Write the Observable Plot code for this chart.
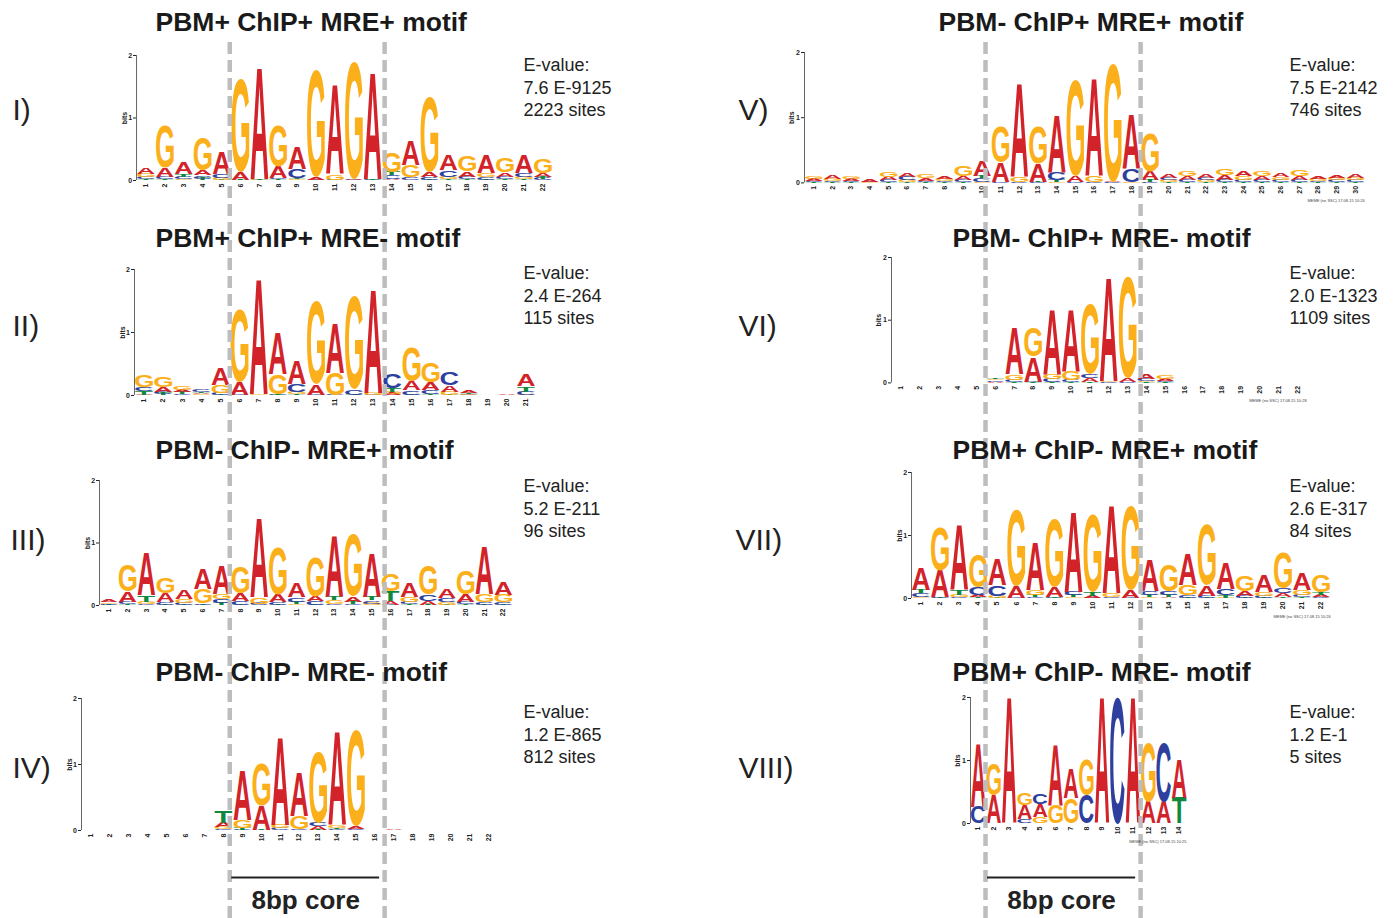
<!DOCTYPE html>
<html><head><meta charset="utf-8">
<script src="https://cdn.jsdelivr.net/npm/d3@7"></script>
<script src="https://cdn.jsdelivr.net/npm/@observablehq/plot@0.6"></script>
<style>
html,body{margin:0;padding:0;background:#fff;overflow:hidden;}
#fig{position:relative;width:1395px;height:918px;background:#fff;}
#fig svg{position:absolute;}
</style></head><body><div id="fig"></div>
<script>
// ---------- DATA (each position: letters bottom -> top, with height in bits) ----------
const motifI = [
"T.02 C.04 G.05 A.10","T.02 C.04 A.14 G.68","G.02 C.04 T.04 A.18","T.03 C.05 A.08 G.53",
"T.01 G.03 C.06 A.35","T.01 A.12 G1.49","G.01 T.02 A1.79","T.02 C.02 A.18 G.66",
"G.02 T.01 C.15 A.36","C.01 A.03 G1.70","C.01 G.09 A1.44","C.01 A.02 G1.88",
"C.01 T.02 A1.70","A.02 C.06 T.05 G.32","C.05 G.19 A.40","T.01 C.04 A.08 G1.21",
"T.02 G.04 C.10 A.24","T.02 C.04 A.09 G.25","T.01 C.04 G.07 A.28","T.02 C.04 A.07 G.22",
"T.02 G.04 C.06 A.28","C.03 T.03 A.05 G.24"];
const motifII = [
"A.01 T.06 C.06 G.19","T.03 C.03 A.07 G.16","C.02 T.03 A.03 G.05","G.02 A.02 T.02 C.04",
"T.01 C.03 G.12 A.26","C.01 A.20 G1.14","G.02 A1.83","C.01 T.01 G.32 A.66",
"T.02 G.04 C.13 A.37","C.01 A.17 G1.31","C.01 G.35 A.78","T.01 C.09 G1.49",
"C.01 G.03 A1.64","A.03 G.03 T.06 C.22","T.01 C.07 A.15 G.55","T.02 C.07 A.12 G.32",
"T.01 G.05 A.10 C.21","C.01 G.02 T.01 A.04","","A.02","G.01 C.05 T.09 A.19"];
const motifIII = [
"T.01 C.02 G.02 A.03","T.02 C.04 A.17 G.41","C.02 G.04 T.10 A.69","T.01 C.04 A.14 G.26",
"T.01 C.03 G.06 A.14","T.01 C.02 G.24 A.32","T.04 C.07 G.08 A.45","T.01 C.06 A.12 G.42",
"C.03 G.10 A1.26","T.01 C.04 A.12 G.76","G.02 T.04 C.07 A.22","T.01 C.06 A.08 G.62",
"C.02 G.06 T.07 A.97","C.02 T.04 A.09 G1.00","G.03 C.05 T.06 A.71","C.01 A.06 T.16 G.28",
"T.02 C.04 G.08 A.23","T.01 A.06 C.10 G.47","T.01 G.04 C.07 A.15","T.02 C.04 A.12 G.38",
"T.01 C.04 G.13 A.76","T.01 C.04 G.12 A.20"];
const motifIV = [
"","","","","","","","C.02 G.03 A.07 T.17","C.01 T.03 G.12 A.75","T.01 A.37 G.64",
"C.03 G.05 A1.34","C.02 G.20 A.67","T.01 A.05 C.06 G1.07","C.02 T.02 G.04 A1.41",
"C.02 A.04 G1.46","","A.02","","","","",""];
const motifV = [
"T.01 C.02 A.03 G.03","T.01 C.02 G.03 A.06","T.01 C.02 A.03 G.03","G.01 C.01 A.03",
"T.01 C.03 A.05 G.08","T.01 G.03 C.05 A.06","T.01 C.02 A.04 G.05","T.01 C.02 G.03 A.04",
"T.01 C.04 A.06 G.15","G.02 C.06 T.03 A.24","C.01 A.30 G.54","C.01 G.08 A1.44",
"C.01 T.01 A.28 G.56","G.02 T.03 C.12 A.87","C.01 A.09 G1.48","C.01 G.10 A1.49",
"C.01 A.01 G1.82","G.01 C.20 A.84","C.01 T.04 A.13 G.58","T.01 G.03 C.04 A.06",
"T.01 C.04 A.06 G.08","T.01 G.03 C.04 A.06","T.01 C.04 A.07 G.10","T.01 C.04 G.05 A.08",
"T.01 C.04 A.05 G.08","T.01 C.04 G.04 A.06","T.01 C.04 A.06 G.09","T.01 C.02 G.03 A.04",
"T.01 C.03 G.03 A.04","T.01 C.03 G.04 A.06"];
const motifVI = [
"","","","","","A.02 C.02 G.02 T.02","T.01 C.04 G.09 A.75","T.01 C.01 A.40 G.46",
"T.01 C.05 G.08 A1.03","T.01 C.03 G.14 A.99","T.01 A.07 C.06 G1.12","C.01 G.02 A1.65",
"C.01 A.06 G1.61","T.01 G.02 C.04 A.09","T.01 C.02 A.03 G.06","","","","","","",""];
const motifVII = [
"G.02 C.06 T.05 A.34","T.01 C.01 A.43 G.69","C.02 G.04 T.09 A1.02","T.02 A.03 C.12 G.53",
"T.01 G.03 C.17 A.42","C.01 A.19 G1.22","C.02 T.04 G.08 A.76","C.01 T.01 A.17 G1.08",
"G.02 T.04 C.05 A1.28","C.01 A.03 T.06 G1.23","C.02 G.07 A1.40","C.01 A.12 G1.33",
"G.02 T.04 C.06 A.49","A.02 T.04 C.06 G.41","T.01 C.04 G.16 A.49","T.01 C.03 A.17 G.96",
"G.01 T.04 C.10 A.41","T.01 C.03 A.08 G.25","T.01 C.03 G.07 A.26","T.02 A.06 C.08 G.57",
"T.02 C.04 G.08 A.26","C.02 A.04 T.04 G.27"];
const motifVIII = [
"C.26 A1.00","A.45 G.51","A2.00","C.07 A.22 G.18","G.10 A.20 C.17","G.30 A.96",
"G.40 A.47","C.45 G.57","A2.00","C2.00","A2.00","A.34 G.94","A.34 C.94","T.41 A.62"];

const titles = ["PBM+ ChIP+ MRE+ motif","PBM+ ChIP+ MRE- motif","PBM- ChIP- MRE+ motif","PBM- ChIP- MRE- motif",
                "PBM- ChIP+ MRE+ motif","PBM- ChIP+ MRE- motif","PBM+ ChIP- MRE+ motif","PBM+ ChIP- MRE- motif"];
const numerals = ["I)","II)","III)","IV)","V)","VI)","VII)","VIII)"];
const evalues = ["7.6 E-9125","2.4 E-264","5.2 E-211","1.2 E-865","7.5 E-2142","2.0 E-1323","2.6 E-317","1.2 E-1"];
const sites = [2223,115,96,812,746,1109,84,5];
const coreBounds = [[6,13],[6,13],[8,15],[9,16],[11,18],[6,13],[5,12],[2,11]];
const stamps = [null,null,null,null,"MEME (no SSC) 17.08.15 10:26","MEME (no SSC) 17.08.15 10:28","MEME (no SSC) 17.08.15 10:26","MEME (no SSC) 17.08.15 10:25"];
const coreLabel = "8bp core";

// ---------- LAYOUT / STYLE ----------
const W = 1395, H = 918;
const FONT = "'Liberation Sans', Arial, Helvetica, sans-serif";
const letterColors = {A:"#d2232a", C:"#2e3f9e", G:"#fbb01b", T:"#10893e"};
const geometry = [
 {x1:145, dx:18.9, base:180, top2:55},
 {x1:143.3, dx:19.1, base:395, top2:269},
 {x1:108.3, dx:18.78, base:605, top2:480},
 {x1:90.7, dx:18.93, base:830, top2:698},
 {x1:813.2, dx:18.68, base:182.7, top2:52.3},
 {x1:900, dx:18.89, base:382.7, top2:257.3},
 {x1:920.7, dx:19.05, base:598.3, top2:472.3},
 {x1:977.3, dx:15.46, base:823.3, top2:697.3}
];
const titleAt = [[155,22],[155,238],[155,450],[155,672],[938,22],[952,238],[952,450],[952,672]];
const numeralAt = [[12,110],[12,326],[10,540],[12,768],[738,110],[738,326],[735,540],[738,768]];
const evalueAt = [[523,65],[523,273],[523,486],[523,712],[1289,65],[1289,273],[1289,486],[1289,712]];

const motifs = [motifI,motifII,motifIII,motifIV,motifV,motifVI,motifVII,motifVIII];

function parseMotif(rows){
  const out = [];
  rows.forEach((row,i)=>{
    let y = 0;
    row.split(/\s+/).filter(Boolean).forEach(tok=>{
      const h = parseFloat(tok.slice(1));
      out.push({pos:i+1, letter:tok[0], y1:y, y2:y+h});
      y += h;
    });
  });
  return out;
}

const ctx = document.createElement("canvas").getContext("2d");
ctx.font = "bold 100px 'Liberation Sans'";
const glyph = {};
for (const L of "ACGT") {
  const m = ctx.measureText(L);
  glyph[L] = {asc:m.actualBoundingBoxAscent, desc:m.actualBoundingBoxDescent, left:m.actualBoundingBoxLeft, right:m.actualBoundingBoxRight};
}

function scaleFn(plot, name){
  const s = plot.scale(name);
  if (s && typeof s.apply === "function") return v => s.apply(v);
  const [d0,d1] = s.domain, [r0,r1] = s.range;
  return v => r0 + (v-d0)/(d1-d0)*(r1-r0);
}

const fig = document.getElementById("fig");
const panels = motifs.map((rows,k)=>{
  const g = geometry[k], n = rows.length;
  const mL = 34, mR = 6, mT = 6, mB = 28;
  const width = mL + n*g.dx + mR;
  const height = mT + (g.base - g.top2) + mB;
  const letters = parseMotif(rows);
  const plot = Plot.plot({
    width, height, marginLeft:mL, marginRight:mR, marginTop:mT, marginBottom:mB,
    style:{background:"transparent", fontFamily:FONT, fontSize:"7px", fontWeight:"bold", overflow:"visible", color:"#222"},
    color:{type:"identity"},
    x:{domain:[0.5,n+0.5], ticks:d3.range(1,n+1), tickFormat:d=>String(d), tickSize:0, tickPadding:3, tickRotate:-90, label:null},
    y:{domain:[0,2], ticks:[0,1,2], tickFormat:d=>String(d), tickSize:3, tickPadding:1.5, label:"bits", labelArrow:"none", labelAnchor:"center", labelOffset:15},
    marks:[
      Plot.ruleX([0.5], {y1:()=>0, y2:()=>2, stroke:"#666", strokeWidth:1}),
      Plot.text(letters, {x:"pos", y:"y1", text:"letter", fill:d=>letterColors[d.letter], ariaLabel:"logo letters", fontSize:100, fontWeight:"bold", fontFamily:"Liberation Sans"})
    ]
  });
  const xs = scaleFn(plot,"x"), ys = scaleFn(plot,"y");
  const grp = plot.querySelector('g[aria-label="logo letters"]') || plot.querySelector('g[aria-label="text"]');
  if (grp) {
    grp.querySelectorAll("text").forEach((t,i)=>{
      const d = letters[i]; if (!d) return;
      const gm = glyph[d.letter];
      const cx = xs(d.pos), yb = ys(d.y1), yt = ys(d.y2);
      const h = Math.max(0, yb - yt), w = g.dx*0.94;
      const sx = w/(gm.left+gm.right), sy = h/(gm.asc+gm.desc);
      ["x","y","dx","dy"].forEach(a=>t.removeAttribute(a));
      t.setAttribute("text-anchor","start");
      t.setAttribute("font-size","100");
      t.setAttribute("font-weight","bold");
      t.setAttribute("font-family","Liberation Sans");
      t.setAttribute("transform",`translate(${cx},${yb}) scale(${sx},${sy}) translate(${-(gm.right-gm.left)/2},${-gm.desc})`);
    });
  }
  const left = g.x1 - g.dx/2 - mL, top = g.top2 - mT;
  plot.style.left = left + "px";
  plot.style.top = top + "px";
  fig.appendChild(plot);
  return {n, gx:p=>left+xs(p), gy:v=>top+ys(v)};
});

// ---------- OVERLAY (core dashes, labels) ----------
// dashed lines enclose the 8bp core of every motif in the column
const columns = [[0,1,2,3],[4,5,6,7]];
const dashes = [], brackets = [];
columns.forEach(col=>{
  const a = d3.min(col, k=>panels[k].gx(coreBounds[k][0]-0.5));
  const b = d3.max(col, k=>panels[k].gx(coreBounds[k][1]+0.5));
  dashes.push({x:a},{x:b});
  brackets.push({x1:a+2, x2:b-5, label:coreLabel});
});
const titleRows = titles.map((t,k)=>({x:titleAt[k][0], y:titleAt[k][1], text:t}));
const numeralRows = numerals.map((t,k)=>({x:numeralAt[k][0], y:numeralAt[k][1], text:t}));
const evalueRows = [];
evalues.forEach((e,k)=>{
  ["E-value:", e, `${sites[k]} sites`].forEach((t,j)=>evalueRows.push({x:evalueAt[k][0], y:evalueAt[k][1]+j*22.5, text:t}));
});
const stampRows = [];
stamps.forEach((s,k)=>{ if (s) stampRows.push({x:panels[k].gx(panels[k].n+0.5), y:panels[k].gy(0)+18, text:s}); });

const overlay = Plot.plot({
  width:W, height:H, margin:0,
  style:{background:"transparent", fontFamily:FONT, overflow:"visible"},
  x:{domain:[0,W], range:[0,W], axis:null},
  y:{domain:[0,H], range:[0,H], axis:null},
  marks:[
    Plot.ruleX(dashes, {x:"x", y1:()=>42, y2:()=>H, stroke:"#bdbdbd", strokeWidth:4.5, strokeDasharray:"12,6"}),
    Plot.ruleY(brackets, {y:()=>877, x1:"x1", x2:"x2", stroke:"#222", strokeWidth:2.2}),
    Plot.text(brackets, {x:d=>(d.x1+d.x2)/2, y:()=>900, text:"label", fontSize:26, fontWeight:"bold", fill:"#222"}),
    Plot.text(titleRows, {x:"x", y:"y", text:"text", textAnchor:"start", fontSize:26.5, fontWeight:"bold", fill:"#1a1a1a"}),
    Plot.text(numeralRows, {x:"x", y:"y", text:"text", textAnchor:"start", fontSize:30, fill:"#222"}),
    Plot.text(evalueRows, {x:"x", y:"y", text:"text", textAnchor:"start", fontSize:18, fill:"#222"}),
    Plot.text(stampRows, {x:"x", y:"y", text:"text", textAnchor:"end", fontSize:4, fill:"#444"})
  ]
});
overlay.style.left = "0px"; overlay.style.top = "0px";
fig.appendChild(overlay);
</script></body></html>
